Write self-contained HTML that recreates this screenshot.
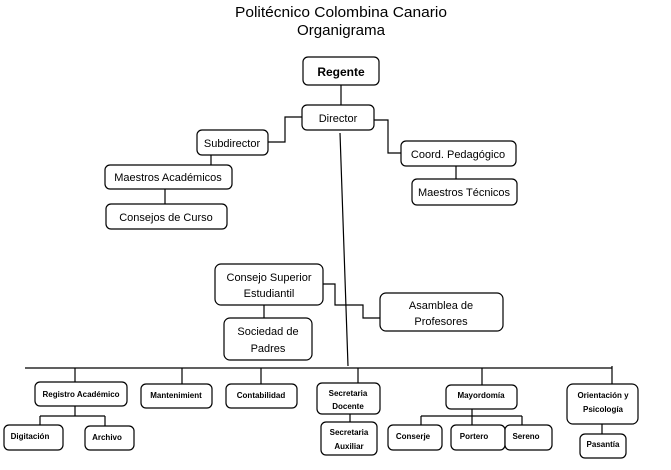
<!DOCTYPE html>
<html><head><meta charset="utf-8"><style>
html,body{margin:0;padding:0;background:#fff;}
svg{display:block;}
text{font-family:"Liberation Sans",sans-serif;fill:#000;}
.b{fill:#fff;stroke:#000;stroke-width:1.2;}
.l{stroke:#000;stroke-width:1.2;fill:none;}
.t{font-size:11px;}
.s{font-size:8px;font-weight:bold;}
</style></head><body>
<svg width="671" height="470" viewBox="0 0 671 470" xmlns="http://www.w3.org/2000/svg">
<text x="341" y="17" font-size="15" text-anchor="middle" textLength="212" lengthAdjust="spacingAndGlyphs">Politécnico Colombina Canario</text>
<text x="341" y="35" font-size="15" text-anchor="middle" textLength="88" lengthAdjust="spacingAndGlyphs">Organigrama</text>

<!-- connectors -->
<path class="l" d="M341 85V105 M302 117H285V142H268 M374 120H388V153H401 M211 155V165 M165 189V204 M456 166V179 M340 133L348 366 M264 305V318 M323 284H335V305H363V318H380 M25 368H612 M75 368V382 M182 368V384 M261 368V384 M358 368V383 M482 368V385 M612 366V384 M75 406V416 M40 416H105 M40 416V425 M105 416V426 M350 414V422 M472 409V416 M421 416H522 M421 416V425 M472 416V425 M522 416V425 M602 424V434"/>

<rect class="b" x="303" y="57" width="76" height="28" rx="5"/><text x="341" y="76" font-size="12" font-weight="bold" text-anchor="middle">Regente</text>
<rect class="b" x="302" y="105" width="72" height="25" rx="5"/><text x="338" y="122" class="t" text-anchor="middle">Director</text>
<rect class="b" x="197" y="130" width="71" height="25" rx="5"/><text x="232" y="147" class="t" text-anchor="middle">Subdirector</text>
<rect class="b" x="105" y="165" width="127" height="24" rx="5"/><text x="168" y="181" class="t" text-anchor="middle">Maestros Académicos</text>
<rect class="b" x="106" y="204" width="121" height="25" rx="5"/><text x="166" y="221" class="t" text-anchor="middle">Consejos de Curso</text>
<rect class="b" x="401" y="141" width="115" height="25" rx="5"/><text x="458" y="158" class="t" text-anchor="middle">Coord. Pedagógico</text>
<rect class="b" x="412" y="179" width="105" height="26" rx="5"/><text x="464" y="196" class="t" text-anchor="middle">Maestros Técnicos</text>

<rect class="b" x="215" y="264" width="108" height="41" rx="6"/><text x="269" y="281" class="t" text-anchor="middle">Consejo Superior</text><text x="269" y="297" class="t" text-anchor="middle">Estudiantil</text>
<rect class="b" x="224" y="318" width="88" height="42" rx="6"/><text x="268" y="335" class="t" text-anchor="middle">Sociedad de</text><text x="268" y="352" class="t" text-anchor="middle">Padres</text>
<rect class="b" x="380" y="293" width="123" height="38" rx="6"/><text x="441" y="309" class="t" text-anchor="middle">Asamblea de</text><text x="441" y="325" class="t" text-anchor="middle">Profesores</text>

<rect class="b" x="35" y="382" width="92" height="24" rx="5"/><text x="81" y="397" class="s" text-anchor="middle">Registro Académico</text>
<rect class="b" x="141" y="384" width="71" height="24" rx="5"/><text x="176" y="398" class="s" text-anchor="middle">Mantenimient</text>
<rect class="b" x="226" y="384" width="71" height="24" rx="5"/><text x="261" y="398" class="s" text-anchor="middle">Contabilidad</text>
<rect class="b" x="4" y="425" width="59" height="25" rx="5"/><text x="30" y="439" class="s" text-anchor="middle">Digitación</text>
<rect class="b" x="85" y="426" width="49" height="24" rx="5"/><text x="107" y="440" class="s" text-anchor="middle">Archivo</text>
<rect class="b" x="317" y="383" width="63" height="31" rx="5"/><text x="348" y="396" class="s" text-anchor="middle">Secretaria</text><text x="348" y="409" class="s" text-anchor="middle">Docente</text>
<rect class="b" x="321" y="422" width="56" height="33" rx="5"/><text x="349" y="435" class="s" text-anchor="middle">Secretaria</text><text x="349" y="449" class="s" text-anchor="middle">Auxiliar</text>
<rect class="b" x="446" y="385" width="71" height="24" rx="5"/><text x="481" y="398" class="s" text-anchor="middle">Mayordomía</text>
<rect class="b" x="388" y="425" width="54" height="25" rx="5"/><text x="413" y="439" class="s" text-anchor="middle">Conserje</text>
<rect class="b" x="451" y="425" width="54" height="25" rx="5"/><text x="474" y="439" class="s" text-anchor="middle">Portero</text>
<rect class="b" x="505" y="425" width="47" height="25" rx="5"/><text x="526" y="439" class="s" text-anchor="middle">Sereno</text>
<rect class="b" x="567" y="384" width="71" height="40" rx="6"/><text x="603" y="398" class="s" text-anchor="middle">Orientación y</text><text x="603" y="412" class="s" text-anchor="middle">Psicología</text>
<rect class="b" x="580" y="434" width="46" height="24" rx="5"/><text x="603" y="447" class="s" text-anchor="middle">Pasantía</text>
</svg>
</body></html>
